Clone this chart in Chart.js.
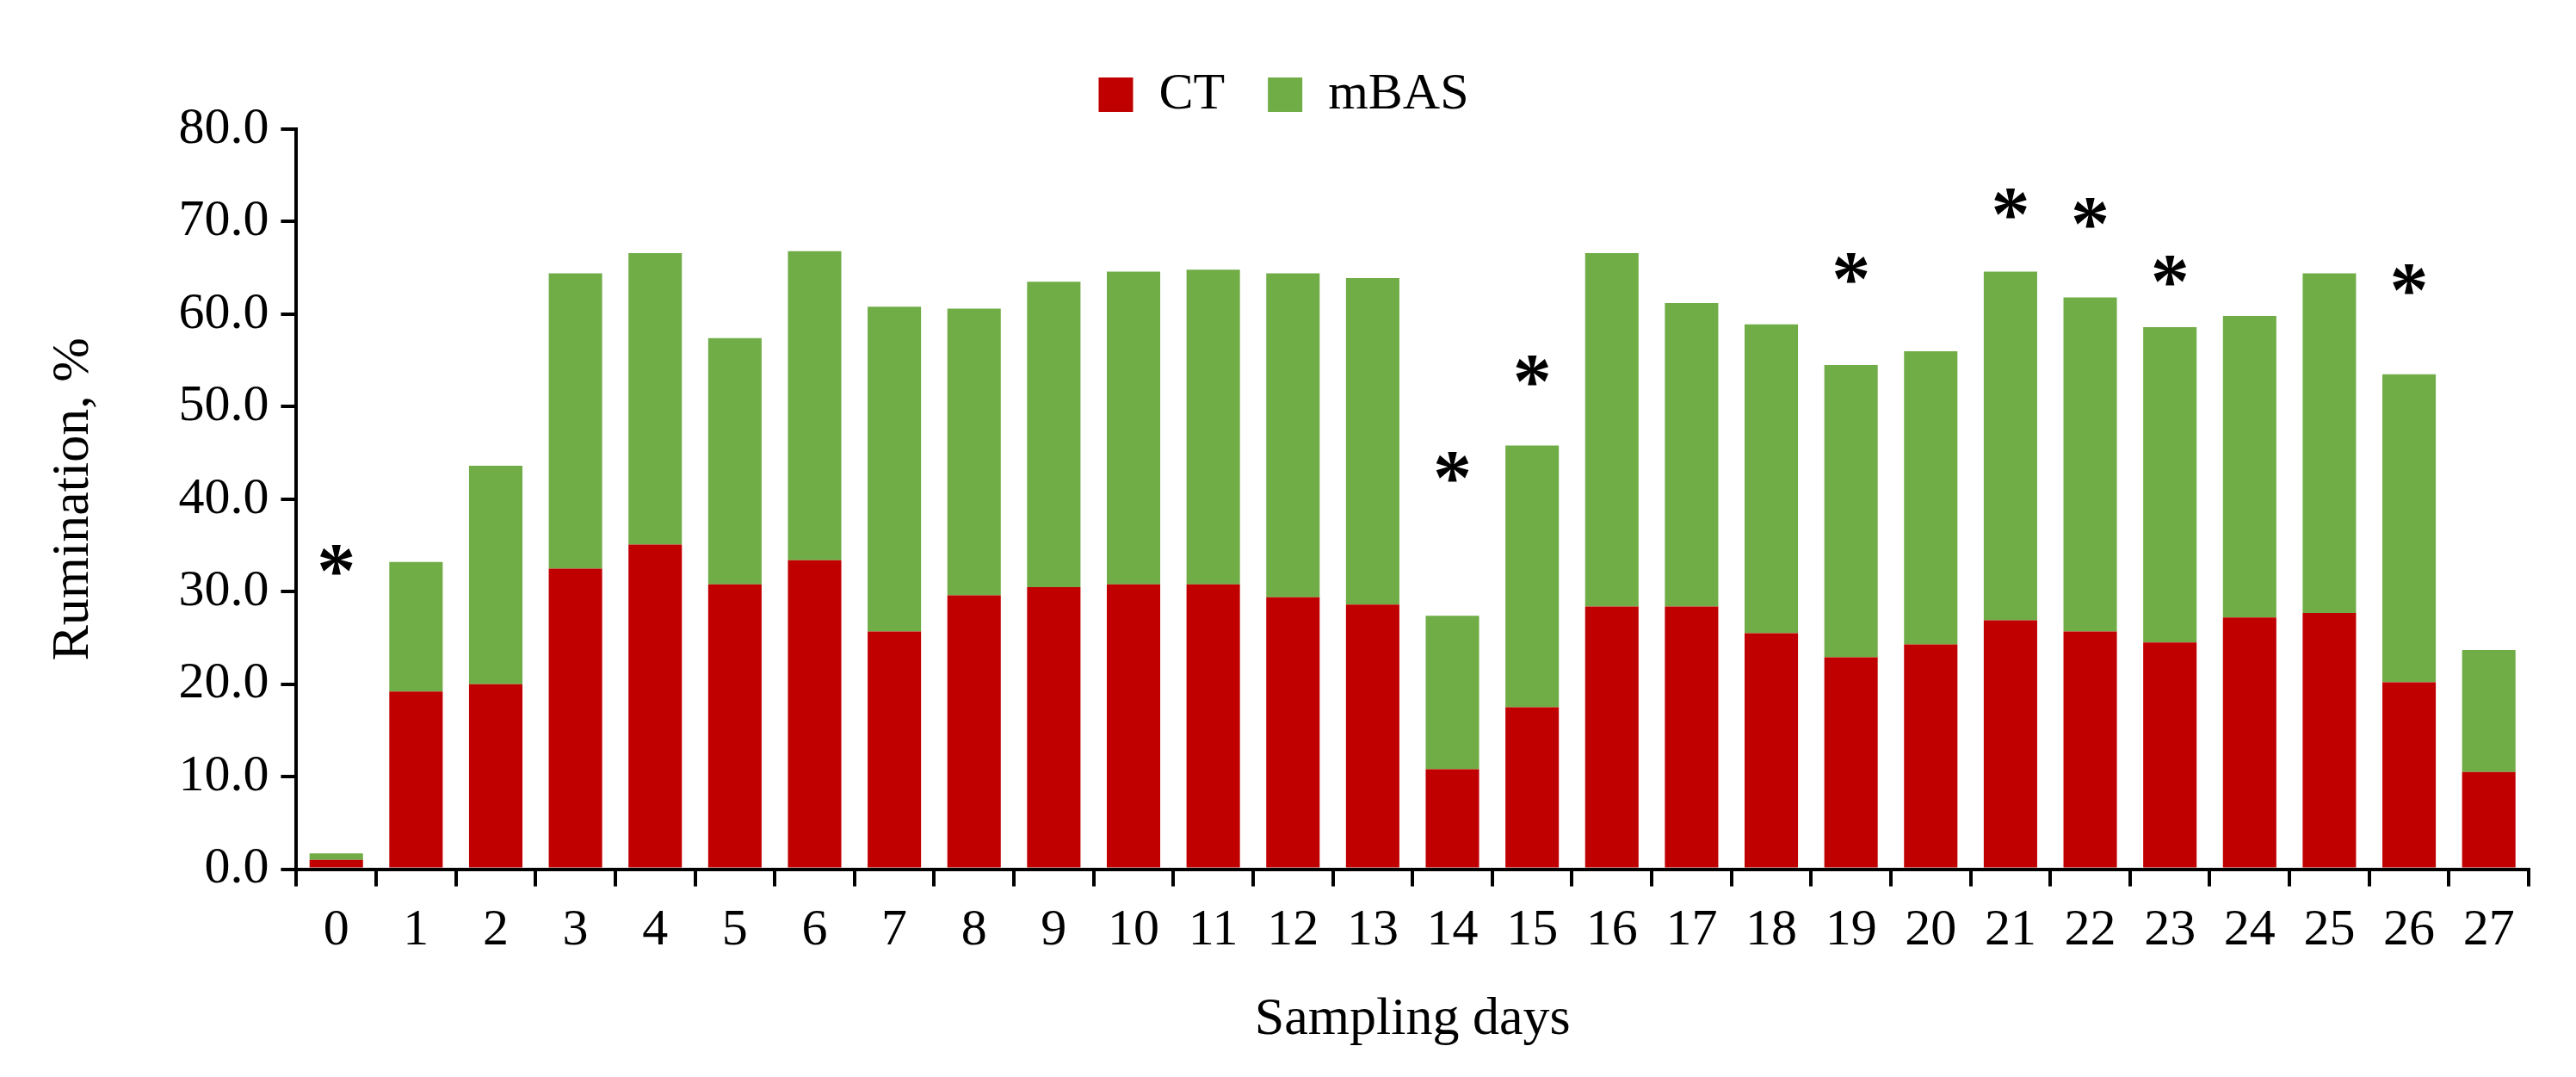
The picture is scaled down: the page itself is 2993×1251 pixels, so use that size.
<!DOCTYPE html>
<html><head><meta charset="utf-8">
<script src="https://cdn.jsdelivr.net/npm/chart.js@4"></script>
<style>html,body{margin:0;padding:0;background:#fff}#w{width:2993px;height:1251px}</style>
</head><body><div id="w"><canvas id="c"></canvas></div>
<script>
const days = ['0','1','2','3','4','5','6','7','8','9','10','11','12','13','14','15','16','17','18','19','20','21','22','23','24','25','26','27'];
const ct = [1.0,19.2,20.0,32.5,35.1,30.8,33.4,25.7,29.6,30.5,30.8,30.8,29.4,28.6,10.8,17.5,28.4,28.4,25.5,22.9,24.3,26.9,25.7,24.5,27.2,27.7,20.2,10.5];
const mbas = [0.7,14.0,23.6,31.9,31.5,26.6,33.4,35.1,31.0,33.0,33.8,34.0,35.0,35.3,16.6,28.3,38.2,32.8,33.4,31.6,31.7,37.7,36.1,34.1,32.6,36.7,33.3,13.2];
const starDays = ['0','14','15','19','21','22','23','26'];
const starY = [33.5,43.5,54.0,65.0,72.0,71.0,64.8,63.8];
const F = 'Liberation Serif, Times New Roman, serif';
const stars = {id:'stars',afterDatasetsDraw(ch){const c=ch.ctx,x=ch.scales.x,y=ch.scales.y;c.save();c.fillStyle='#000';c.font='bold 90px '+F;c.textAlign='center';c.textBaseline='middle';
starDays.forEach((d,i)=>{c.fillText('*',x.getPixelForValue(days.indexOf(d)),y.getPixelForValue(starY[i])+20);});c.restore();}};
new Chart(document.getElementById('c'),{type:'bar',
data:{labels:days,datasets:[{label:'CT',data:ct,backgroundColor:'#C00000'},{label:'mBAS',data:mbas,backgroundColor:'#70AD47'}]},
options:{responsive:true,maintainAspectRatio:false,animation:false,
layout:{padding:{left:45,right:55,top:30,bottom:25}},
datasets:{bar:{barPercentage:0.67,categoryPercentage:1}},
plugins:{legend:{position:'top',labels:{font:{family:F,size:60},color:'#000',boxWidth:40,boxHeight:40,padding:50}},tooltip:{enabled:false}},
scales:{
x:{stacked:true,grid:{display:true,drawOnChartArea:false,offset:true,color:'#000',lineWidth:4,tickLength:20},border:{color:'#000',width:4},
ticks:{font:{family:F,size:60},color:'#000',padding:16,maxRotation:0,autoSkip:false},
title:{display:true,text:'Sampling days',font:{family:F,size:62},color:'#000',padding:{top:14}}},
y:{stacked:true,min:0,max:80,grid:{drawOnChartArea:false,color:'#000',lineWidth:4,tickLength:18},border:{color:'#000',width:4},
ticks:{stepSize:10,callback:v=>v.toFixed(1),font:{family:F,size:60},color:'#000',padding:14},
title:{display:true,text:'Rumination, %',font:{family:F,size:62},color:'#000',padding:{bottom:70}}}}},
plugins:[stars]});
</script></body></html>
